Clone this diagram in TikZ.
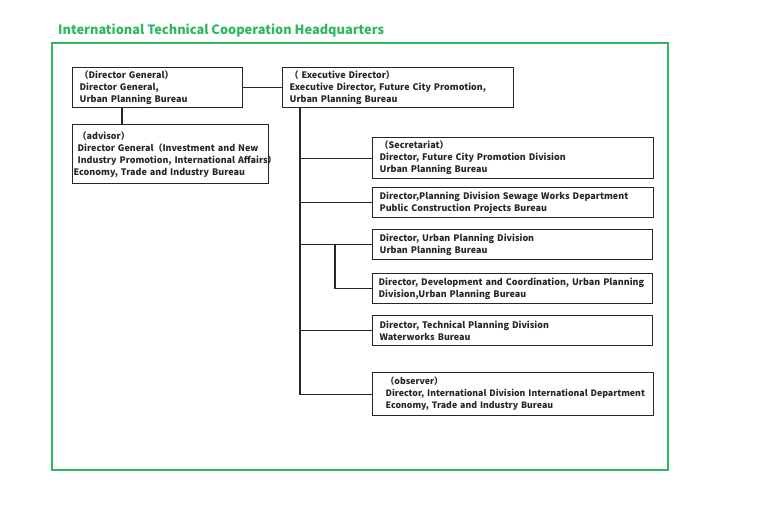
\documentclass[tikz,border=0pt]{standalone}
\usepackage{fontspec}
\setmainfont{Noto Sans CJK JP}
\definecolor{framegreen}{RGB}{44,184,96}
\definecolor{ink}{RGB}{38,38,38}
\newcommand\oneline[1]{\mbox{#1}}
\begin{document}
\begin{tikzpicture}[x=1pt,y=-1pt,
  box/.style={draw=ink, line width=1.3pt, rectangle, anchor=north west, align=left,
    font=\fontsize{9}{12}\selectfont\bfseries, text=ink, inner ysep=0pt},
  link/.style={draw=ink, line width=1.3pt},
  frame/.style={draw=framegreen, line width=2.4pt},
  title/.style={anchor=base west, inner sep=0pt, text=framegreen, font=\fontsize{12.8}{15}\selectfont\bfseries}]
\useasboundingbox (0,0) rectangle (760,525);

\node[title] (title) at (58,34) {International Technical Cooperation Headquarters};
\path[frame] (52,43) rectangle (668,470);

\node[box, minimum width=170pt, minimum height=40pt, text width=156pt, inner xsep=7pt] (dg) at (72,67)
  {\oneline{（Director General）}\\\oneline{Director General,}\\\oneline{Urban Planning Bureau}};
\node[box, minimum width=231pt, minimum height=40pt, text width=217pt, inner xsep=7pt] (ex) at (282,67)
  {\oneline{（ Executive Director）}\\\oneline{Executive Director, Future City Promotion,}\\\oneline{Urban Planning Bureau}};
\node[box, minimum width=196pt, minimum height=59pt, text width=194pt, inner xsep=1pt] (adv) at (72,124)
  {\oneline{\hspace{4pt}（advisor）}\\\oneline{\hspace{4pt}Director General（Investment and New}\\\oneline{\hspace{4pt}Industry Promotion, International Affairs）}\\\oneline{Economy, Trade and Industry Bureau}};

\node[box, minimum width=281pt, minimum height=41pt, text width=267pt, inner xsep=7pt] (sec) at (372,137)
  {\oneline{（Secretariat）}\\\oneline{Director, Future City Promotion Division}\\\oneline{Urban Planning Bureau}};
\node[box, minimum width=281pt, minimum height=30pt, text width=267pt, inner xsep=7pt] (sew) at (372,187)
  {\oneline{Director,Planning Division Sewage Works Department}\\\oneline{Public Construction Projects Bureau}};
\node[box, minimum width=280pt, minimum height=30pt, text width=266pt, inner xsep=7pt] (upd) at (372,229)
  {\oneline{Director, Urban Planning Division}\\\oneline{Urban Planning Bureau}};
\node[box, minimum width=280pt, minimum height=30pt, text width=268pt, inner xsep=6pt] (dev) at (372,273)
  {\oneline{Director, Development and Coordination, Urban Planning}\\\oneline{Division,Urban Planning Bureau}};
\node[box, minimum width=280pt, minimum height=30pt, text width=266pt, inner xsep=7pt] (tec) at (372,315)
  {\oneline{Director, Technical Planning Division}\\\oneline{Waterworks Bureau}};
\node[box, minimum width=281pt, minimum height=43pt, text width=267pt, inner xsep=7pt,
      font=\fontsize{8.8}{12}\selectfont\bfseries] (obs) at (372,372)
  {\oneline{\hspace{6pt}（observer）}\\\oneline{\hspace{6pt}Director, International Division International Department}\\\oneline{\hspace{6pt}Economy, Trade and Industry Bureau}};

% connectors
\draw[link] (dg.east) -- (ex.west);
\draw[link] (dg.south west) ++(50,0) coordinate (dgdown) -- (dgdown |- adv.north);
\coordinate (trunk) at ([xshift=18pt]ex.south west);
\draw[link] (trunk) |- (obs.west);
\draw[link] (trunk |- sec.west) -- (sec.west);
\draw[link] (trunk |- sew.west) -- (sew.west);
\draw[link] (trunk |- upd.west) -- (upd.west);
\draw[link] (trunk |- tec.west) -- (tec.west);
\coordinate (sub) at ([xshift=-37pt]upd.west);
\draw[link] (sub) |- (dev.west);
\end{tikzpicture}
\end{document}
